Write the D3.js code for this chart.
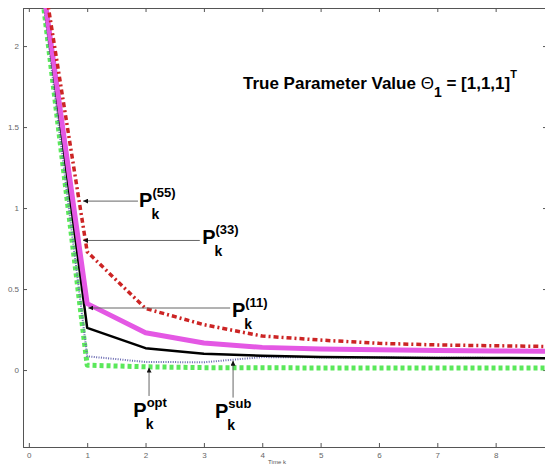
<!DOCTYPE html>
<html>
<head>
<meta charset="utf-8">
<script src="https://cdn.jsdelivr.net/npm/d3@7"></script>
<style>
  body { margin: 0; background: #fff; }
  text { font-family: "Liberation Sans", Arial, sans-serif; }
</style>
</head>
<body>
<div id="canvas"></div>
<script>
"use strict"

/* data */
let timeK = [0, 1, 2, 3, 4, 5, 6, 7, 8, 9];
let pOpt  = [3.0, 0.03, 0.02, 0.015, 0.014, 0.013, 0.013, 0.012, 0.012, 0.012];
let pSub  = [3.0, 0.085, 0.05, 0.048, 0.08, 0.078, 0.077, 0.076, 0.075, 0.075];
let p11   = [3.0, 0.26, 0.135, 0.10, 0.088, 0.08, 0.077, 0.075, 0.074, 0.073];
let p33   = [3.0, 0.41, 0.23, 0.167, 0.14, 0.13, 0.125, 0.12, 0.118, 0.116];
let p55   = [3.0, 0.73, 0.38, 0.28, 0.21, 0.185, 0.165, 0.155, 0.15, 0.145];
let xTicks = [0, 1, 2, 3, 4, 5, 6, 7, 8];
let yTicks = [0, 0.5, 1, 1.5, 2];

/* svg */
let drawing = d3.select("#canvas")
    .append("svg")
    .attr("width", 545)
    .attr("height", 467);

/* scales */
let x = d3.scaleLinear().domain([-0.1, 8.88]).range([23, 547]);
let y = d3.scaleLinear().domain([-0.475, 2.235]).range([447, 8]);

/* clip */
drawing.append("clipPath")
    .attr("id", "plotClip")
    .append("rect")
    .attr("x", 23)
    .attr("y", 8)
    .attr("width", 524)
    .attr("height", 439);

/* axes, ticks inward on all sides */
let axisColor = "#555";
let bottomAxis = drawing.append("g")
    .attr("transform", "translate(0," + y.range()[0] + ")")
    .call(d3.axisBottom(x).tickValues(xTicks).tickSize(-4).tickPadding(5).tickFormat(d3.format("d")));
let topAxis = drawing.append("g")
    .attr("transform", "translate(0," + y.range()[1] + ")")
    .call(d3.axisTop(x).tickValues(xTicks).tickSize(-4).tickFormat(""));
let leftAxis = drawing.append("g")
    .attr("transform", "translate(" + x.range()[0] + ",0)")
    .call(d3.axisLeft(y).tickValues(yTicks).tickSize(-4).tickPadding(4).tickFormat(d3.format("")));
let rightAxis = drawing.append("g")
    .attr("transform", "translate(" + x.range()[1] + ",0)")
    .call(d3.axisRight(y).tickValues(yTicks).tickSize(-4).tickFormat(""));

drawing.selectAll(".domain").attr("stroke", axisColor);
drawing.selectAll(".tick line").attr("stroke", axisColor);
drawing.selectAll(".tick text")
    .attr("fill", "#666")
    .style("font-size", "8px");

/* x label */
let xLabel = drawing.append("text")
    .attr("x", 277)
    .attr("y", 464)
    .attr("text-anchor", "middle")
    .attr("fill", "#555")
    .style("font-size", "6px")
    .text("Time k");

/* lines */
let line = d3.line()
    .x(function (d) { return x(d[0]); })
    .y(function (d) { return y(d[1]); });

let plot = drawing.append("g").attr("clip-path", "url(#plotClip)");

let series = [
    { values: pOpt, color: "#5ae85a", width: 5, dash: "4,3" },
    { values: pSub, color: "#6868b0", width: 2, dash: "1,1.4" },
    { values: p11,  color: "#000000", width: 2.5, dash: null },
    { values: p33,  color: "#e458e4", width: 5, dash: null },
    { values: p55,  color: "#cc2424", width: 3.5, dash: "5,3,2,3" }
];

series.forEach(function (s) {
    plot.append("path")
        .datum(timeK.map(function (t, i) { return [t, s.values[i]]; }))
        .attr("d", line)
        .attr("fill", "none")
        .attr("stroke", s.color)
        .attr("stroke-width", s.width)
        .attr("stroke-dasharray", s.dash)
        .attr("stroke-linejoin", "round");
});

/* arrow head */
drawing.append("defs")
    .append("marker")
    .attr("id", "head")
    .attr("viewBox", "0 0 10 10")
    .attr("refX", 10)
    .attr("refY", 5)
    .attr("markerWidth", 5)
    .attr("markerHeight", 5)
    .attr("orient", "auto")
    .append("path")
    .attr("d", "M0,0 L10,5 L0,10 Z")
    .attr("fill", "#111");

/* annotations: arrow tail -> tip, label position, all in data units */
let notes = [
    { sup: "(55)", tail: [1.87, 1.043], tip: [0.93, 1.043], at: [1.89, 1.006] },
    { sup: "(33)", tail: [2.93, 0.80],  tip: [0.93, 0.80],  at: [2.97, 0.778] },
    { sup: "(11)", tail: [3.45, 0.383], tip: [1.02, 0.383], at: [3.48, 0.327] },
    { sup: "opt",  tail: [2.06, -0.16], tip: [2.06, 0.015], at: [1.79, -0.29] },
    { sup: "sub",  tail: [3.50, -0.17], tip: [3.50, 0.058], at: [3.19, -0.296] }
];

notes.forEach(function (n) {
    drawing.append("line")
        .attr("x1", x(n.tail[0]))
        .attr("y1", y(n.tail[1]))
        .attr("x2", x(n.tip[0]))
        .attr("y2", y(n.tip[1]))
        .attr("stroke", "#666")
        .attr("stroke-width", 1)
        .attr("marker-end", "url(#head)");

    let p = drawing.append("text")
        .attr("x", x(n.at[0]))
        .attr("y", y(n.at[1]))
        .attr("font-weight", "bold")
        .style("font-size", "20px")
        .text("P");
    let w = p.node().getComputedTextLength();

    drawing.append("text")
        .attr("x", x(n.at[0]) + w)
        .attr("y", y(n.at[1]) - 10)
        .attr("font-weight", "bold")
        .style("font-size", "13px")
        .text(n.sup);

    drawing.append("text")
        .attr("x", x(n.at[0]) + w - 1)
        .attr("y", y(n.at[1]) + 12)
        .attr("font-weight", "bold")
        .style("font-size", "14px")
        .text("k");
});

/* title */
let title = drawing.append("text")
    .attr("x", 243)
    .attr("y", 89)
    .attr("font-weight", "bold")
    .style("font-size", "17px");
title.append("tspan").text("True Parameter Value ");
title.append("tspan").attr("font-weight", "normal").text("Θ");
title.append("tspan").attr("dy", 8).style("font-size", "14px").text("1");
title.append("tspan").attr("dy", -8).text(" = [1,1,1]");
title.append("tspan").attr("dy", -11).style("font-size", "11px").text("T");
</script>
</body>
</html>
